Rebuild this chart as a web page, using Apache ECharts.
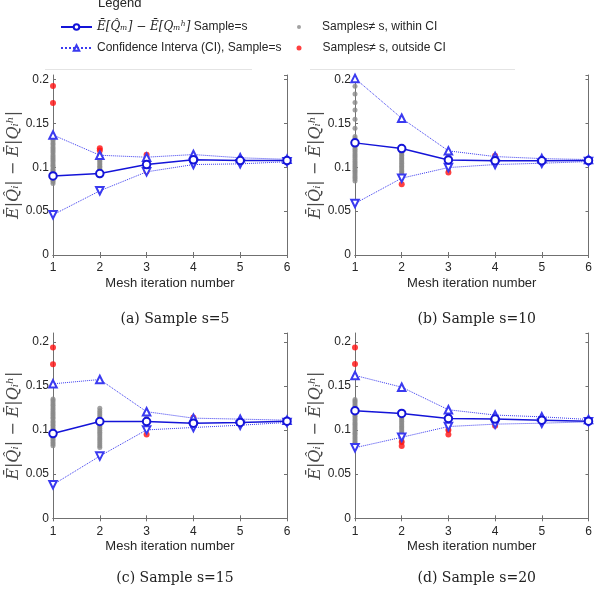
<!DOCTYPE html>
<html>
<head>
<meta charset="utf-8">
<script src="https://cdn.jsdelivr.net/npm/echarts@6/dist/echarts.min.js"></script>
<style>html,body{margin:0;padding:0;background:#fff}#c{width:598px;height:589px}</style>
</head>
<body>
<div id="c"></div>
<script>
// ---------------- data ----------------
const iters = [1, 2, 3, 4, 5, 6];
const xTicks = ['1', '2', '3', '4', '5', '6'];
const yTicks = ['0', '0.05', '0.1', '0.15', '0.2'];
const captions = ['(a) Sample s=5', '(b) Sample s=10', '(c) Sample s=15', '(d) Sample s=20'];

// (a) s=5
const meanA = [0.0900, 0.0928, 0.1030, 0.1084, 0.1076, 0.1076];
const upA   = [0.1367, 0.1136, 0.1114, 0.1144, 0.1107, 0.1090];
const loA   = [0.0458, 0.0731, 0.0947, 0.1030, 0.1038, 0.1062];
const grayA = [
  [0.0815,0.0836,0.0851,0.0872,0.0888,0.0906,0.0921,0.0947,0.0963,0.0980,0.1004,0.1023,0.1042,0.1064,0.1083,0.1103,0.1122,0.1142,0.1167,0.1186,0.1206,0.1228,0.1252,0.1273,0.1297,0.1319,0.1341],
  [0.0902,0.0921,0.0942,0.0958,0.0977,0.0996,0.1012,0.1031,0.1048,0.1068,0.1085,0.1101,0.1119,0.1136,0.1151],
  [0.0996,0.1022,0.1045,0.1068,0.1091,0.1108]
];
const redA = [[1,0.1925],[1,0.1732],[2,0.1216],[2,0.1190],[3,0.1142],[3,0.0952]];

// (b) s=10
const meanB = [0.1277, 0.1212, 0.1083, 0.1072, 0.1072, 0.1076];
const upB   = [0.2011, 0.1557, 0.1186, 0.1121, 0.1098, 0.1087];
const loB   = [0.0587, 0.0875, 0.0996, 0.1030, 0.1045, 0.1064];
const grayB = [
  [0.0843,0.0866,0.0885,0.0904,0.0927,0.0948,0.0966,0.0989,0.1008,0.1027,0.1049,0.1068,0.1091,0.1112,0.1134,0.1152,0.1176,0.1195,0.1214,0.1236,0.1258,0.1281,0.1302,0.1327,0.1351,0.1443,0.1547,0.1651,0.1738,0.1834,0.1921],
  [0.0882,0.0901,0.0918,0.0936,0.0955,0.0972,0.0991,0.1008,0.1026,0.1044,0.1063,0.1081,0.1098,0.1117,0.1135,0.1152,0.1171,0.1188],
  [0.0972,0.0995,0.1018,0.1042,0.1067,0.1089,0.1112,0.1129]
];
const redB = [[2,0.0807],[3,0.0940],[4,0.1130]];

// (c) s=15
const meanC = [0.0960, 0.1097, 0.1097, 0.1078, 0.1086, 0.1100];
const upC   = [0.1524, 0.1573, 0.1208, 0.1135, 0.1124, 0.1112];
const loC   = [0.0381, 0.0705, 0.1002, 0.1029, 0.1055, 0.1086];
const grayC = [
  [0.0823,0.0842,0.0861,0.0884,0.0903,0.0925,0.0944,0.0962,0.0985,0.1003,0.1024,0.1046,0.1063,0.1085,0.1104,0.1127,0.1146,0.1168,0.1189,0.1208,0.1231,0.1249,0.1272,0.1291,0.1313,0.1335,0.1352],
  [0.0801,0.0823,0.0846,0.0867,0.0889,0.0911,0.0932,0.0955,0.0976,0.0998,0.1021,0.1042,0.1064,0.1087,0.1108,0.1129,0.1152,0.1174,0.1196,0.1218,0.1246],
  [0.1005,0.1032,0.1058,0.1084,0.1113,0.1138]
];
const redC = [[1,0.1935],[1,0.1745],[3,0.0949],[4,0.1143]];

// (d) s=20
const meanD = [0.1219, 0.1189, 0.1131, 0.1124, 0.1112, 0.1100];
const upD   = [0.1619, 0.1486, 0.1230, 0.1170, 0.1150, 0.1120];
const loD   = [0.0800, 0.0918, 0.1040, 0.1067, 0.1078, 0.1093];
const grayD = [
  [0.0822,0.0841,0.0863,0.0882,0.0905,0.0924,0.0946,0.0965,0.0984,0.1006,0.1025,0.1047,0.1066,0.1084,0.1106,0.1125,0.1147,0.1166,0.1188,0.1207,0.1229,0.1248,0.1270,0.1289,0.1311,0.1328,0.1345],
  [0.0868,0.0887,0.0906,0.0926,0.0945,0.0964,0.0983,0.1003,0.1022,0.1041,0.1061,0.1080,0.1099,0.1119,0.1138,0.1158,0.1182],
  [0.1002,0.1024,0.1047,0.1071,0.1096,0.1122]
];
const redD = [[1,0.1935],[1,0.1750],[2,0.0865],[2,0.0820],[3,0.1000],[3,0.0949],[4,0.1048]];

const yMax = [0.205, 0.205, 0.21, 0.21];

// ---------------- chart ----------------
const panels = [
  {mean: meanA, up: upA, lo: loA, gray: grayA, red: redA},
  {mean: meanB, up: upB, lo: loB, gray: grayB, red: redB},
  {mean: meanC, up: upC, lo: loC, gray: grayC, red: redC},
  {mean: meanD, up: upD, lo: loD, gray: grayD, red: redD}
];
const gridPos = [
  {left: 53, top: 75, width: 234, height: 180},
  {left: 355, top: 75, width: 233.5, height: 180},
  {left: 53, top: 333, width: 234, height: 185.3},
  {left: 355, top: 333, width: 233.5, height: 185.3}
];
const NAME_MEAN = 'mean';
const NAME_CI = 'ci';
const NAME_GRAY = 'gray';
const NAME_RED = 'red';
const axisCol = '#707070';
const txtCol = '#262626';
const sans = 'Liberation Sans, Arial, sans-serif';
const blue = '#1414d8';
const ciBlue = '#3a3af0';

const xAxis = [], yAxis = [], series = [], title = [];
panels.forEach((p, i) => {
  xAxis.push({
    gridIndex: i, type: 'value', min: 1, max: 6, interval: 1, position: 'bottom',
    name: 'Mesh iteration number', nameLocation: 'middle', nameGap: 22,
    nameTextStyle: {fontFamily: sans, fontSize: 13, color: txtCol},
    axisLine: {lineStyle: {color: axisCol, width: 1}},
    axisTick: {inside: true, length: 3, lineStyle: {color: axisCol}},
    axisLabel: {margin: 7, fontFamily: sans, fontSize: 12, color: txtCol,
      formatter: v => xTicks[Math.round(v) - 1] || ''},
    splitLine: {show: false}
  });
  xAxis.push({
    gridIndex: i, type: 'value', min: 1, max: 6, interval: 1, position: 'top',
    axisLine: {lineStyle: {color: axisCol, width: 1}},
    axisTick: {inside: true, length: 3, lineStyle: {color: axisCol}},
    axisLabel: {show: false}, splitLine: {show: false}
  });
  yAxis.push({
    gridIndex: i, type: 'value', min: 0, max: yMax[i], interval: 0.05, position: 'left',
    name: 'Ē|Q̂ᵢ| − Ē|Qᵢʰ|', nameLocation: 'middle', nameGap: 30, nameRotate: 90,
    nameTextStyle: {fontFamily: 'DejaVu Serif, serif', fontStyle: 'italic', fontSize: 16, color: '#4a4a4a'},
    axisLine: {show: true, lineStyle: {color: axisCol, width: 1}},
    axisTick: {show: true, inside: true, length: 3, lineStyle: {color: axisCol}},
    axisLabel: {margin: 4, fontFamily: sans, fontSize: 12, color: txtCol, showMaxLabel: false,
      formatter: v => { const k = Math.round(v / 0.05); return Math.abs(v - k * 0.05) < 1e-9 ? (yTicks[k] || '') : ''; }},
    splitLine: {show: false}
  });
  yAxis.push({
    gridIndex: i, type: 'value', min: 0, max: yMax[i], interval: 0.05, position: 'right',
    axisLine: {show: true, lineStyle: {color: axisCol, width: 1}},
    axisTick: {show: true, inside: true, length: 3, lineStyle: {color: axisCol}},
    axisLabel: {show: false}, splitLine: {show: false}
  });
  const xi = 2 * i, yi = 2 * i;
  const grayPts = [];
  p.gray.forEach((vals, k) => vals.forEach(v => grayPts.push([iters[k], v])));
  series.push({
    name: NAME_GRAY, type: 'scatter', xAxisIndex: xi, yAxisIndex: yi, data: grayPts,
    symbol: 'circle', symbolSize: 5, itemStyle: {color: '#8a8a8a'}, z: 1, silent: true
  });
  series.push({
    name: NAME_RED, type: 'scatter', xAxisIndex: xi, yAxisIndex: yi, data: p.red,
    symbol: 'circle', symbolSize: 6, itemStyle: {color: '#ff1010'}, z: 2, silent: true
  });
  series.push({
    name: NAME_CI, type: 'line', xAxisIndex: xi, yAxisIndex: yi,
    data: iters.map((x, k) => [x, p.up[k]]),
    symbol: 'emptyTriangle', symbolSize: 7.5, showAllSymbol: true,
    lineStyle: {color: ciBlue, width: 1, type: 'dotted'},
    itemStyle: {color: ciBlue, borderColor: blue, borderWidth: 1}, z: 3, animation: false
  });
  series.push({
    name: NAME_CI, type: 'line', xAxisIndex: xi, yAxisIndex: yi,
    data: iters.map((x, k) => [x, p.lo[k]]),
    symbol: 'emptyTriangle', symbolRotate: 180, symbolSize: 7.5, showAllSymbol: true,
    lineStyle: {color: ciBlue, width: 1, type: 'dotted'},
    itemStyle: {color: ciBlue, borderColor: blue, borderWidth: 1}, z: 3, animation: false
  });
  series.push({
    name: NAME_MEAN, type: 'line', xAxisIndex: xi, yAxisIndex: yi,
    data: iters.map((x, k) => [x, p.mean[k]]),
    symbol: 'emptyCircle', symbolSize: 7.5, showAllSymbol: true,
    lineStyle: {color: blue, width: 1.5},
    itemStyle: {color: blue, borderColor: blue, borderWidth: 1.2}, z: 4, animation: false
  });
  const g = gridPos[i];
  title.push({
    text: captions[i], left: g.left + g.width / 2, textAlign: 'center',
    top: i < 2 ? 307 : 566,
    textStyle: {fontFamily: 'DejaVu Serif, serif', fontWeight: 'normal', fontSize: 14, color: '#222'}
  });
});

const legTxt = {fontFamily: sans, fontSize: 12, color: txtCol,
  rich: {m: {fontFamily: 'DejaVu Serif, serif', fontStyle: 'italic', fontSize: 12, color: txtCol}}};
const legTxtR = Object.assign({}, legTxt, {padding: [0, 0, 0, 16]});
const legend = [
  {left: 60, top: 21, padding: 0, itemWidth: 31, itemHeight: 7, data: [NAME_MEAN], textStyle: legTxt,
    formatter: () => '{m|Ē[Q̂ₘ] − Ē[Qₘʰ]} Sample=s', selectedMode: false},
  {left: 60, top: 42, padding: 0, itemWidth: 31, itemHeight: 7, data: [NAME_CI], textStyle: legTxt,
    formatter: () => 'Confidence Interva (CI), Sample=s', selectedMode: false},
  {left: 297, top: 21, padding: 0, itemWidth: 4, itemHeight: 4, data: [NAME_GRAY], textStyle: legTxtR,
    formatter: () => 'Samples≠ s, within CI', selectedMode: false},
  {left: 296.5, top: 42, padding: 0, itemWidth: 5, itemHeight: 5, data: [NAME_RED], textStyle: legTxtR,
    formatter: () => 'Samples≠ s, outside CI', selectedMode: false}
];

const chart = echarts.init(document.getElementById('c'), null, {renderer: 'canvas'});
chart.setOption({
  animation: false,
  backgroundColor: '#fff',
  grid: gridPos,
  xAxis, yAxis, series, title, legend,
  graphic: [
    {type: 'text', left: 98, top: -3, style: {text: 'Legend', font: '13px Liberation Sans, Arial, sans-serif', fill: txtCol}},
    {type: 'line', shape: {x1: 45, y1: 69.5, x2: 252, y2: 69.5}, style: {stroke: '#e4e4e4', lineWidth: 1}},
    {type: 'line', shape: {x1: 310, y1: 69.5, x2: 515, y2: 69.5}, style: {stroke: '#e4e4e4', lineWidth: 1}}
  ]
});
</script>
</body>
</html>
